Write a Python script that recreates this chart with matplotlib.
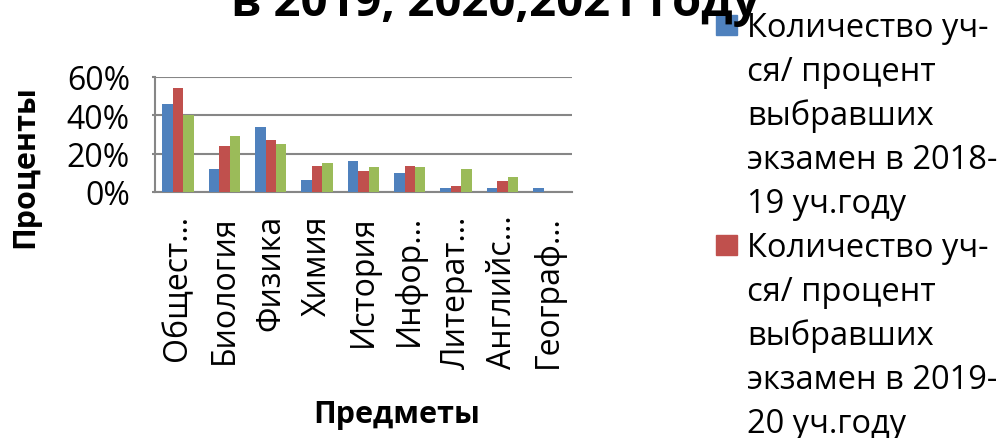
import numpy as np
import matplotlib
matplotlib.use("Agg")
from matplotlib import pyplot as plt
from matplotlib.patches import Rectangle

plt.rcParams['font.family'] = ['Open Sans', 'DejaVu Sans']

# Data (percent of students choosing the exam)
subjects = ["Общест…", "Биология", "Физика", "Химия", "История",
            "Инфор…", "Литерат…", "Английс…", "Географ…"]
year_2019 = [46, 12, 34, 6, 16, 10, 2, 2, 2]
year_2020 = [54, 24, 27, 13.5, 11, 13.5, 3, 5.5, 0]
year_2021 = [40, 29, 25, 15, 13, 13, 12, 8, 0]
series_labels = [
    "Количество уч-\nся/ процент\nвыбравших\nэкзамен в 2018-\n19 уч.году",
    "Количество уч-\nся/ процент\nвыбравших\nэкзамен в 2019-\n20 уч.году",
    "Количество уч-\nся/ процент\nвыбравших\nэкзамен в 2020-\n21 уч.году",
]
y_ticks = [0, 20, 40, 60]

colors = ["#4F81BD", "#C0504D", "#9BBB59"]
grey = "#868686"

fig = plt.figure(figsize=(10.01, 4.39), dpi=100)
ax = fig.add_axes([0.1548, 0.5604, 0.4166, 0.2620])

x = np.arange(len(subjects))
w = 0.225
for i, vals in enumerate([year_2019, year_2020, year_2021]):
    ax.bar(x + (i - 1) * w, np.array(vals) / 100, width=w, color=colors[i], zorder=3)

ax.set_xlim(-0.5, len(subjects) - 0.5)
ax.set_ylim(0, 0.6)
ax.set_yticks([t / 100 for t in y_ticks])
ax.set_yticklabels([f"{t}%" for t in y_ticks], fontsize=23)
ax.set_xticks(x)
ax.set_xticklabels(subjects, rotation=90, fontsize=23)
ax.tick_params(axis="x", length=0, pad=16)
ax.tick_params(axis="y", length=2, color=grey, width=1.5, pad=16)
ax.grid(axis="y", color=grey, linewidth=1.5, zorder=0)
for s in ["top", "right"]:
    ax.spines[s].set_visible(False)
for s in ["left", "bottom"]:
    ax.spines[s].set_color(grey)
    ax.spines[s].set_linewidth(1.5)

ax.set_ylabel("Проценты", fontsize=22, fontweight="bold")
ax.yaxis.set_label_coords(-0.275, 0.226)
fig.text(397 / 1001, 1 - 423 / 439, "Предметы", fontsize=22, fontweight="bold",
         ha="center", va="baseline")

# title, only the last line fits on the canvas
fig.text(495 / 1001, 1 - 16 / 439, "в 2019, 2020,2021 году", fontsize=34,
         fontweight="bold", ha="center", va="baseline")

# legend drawn by hand so the square sits on the first line of each entry
line_h = 44
first_base = 37
for i, lab in enumerate(series_labels):
    b0 = first_base + i * 5 * line_h
    fig.patches.append(Rectangle((716 / 1001, 1 - (b0 - 1) / 439), 21 / 1001, 20 / 439,
                                 transform=fig.transFigure, color=colors[i]))
    for j, part in enumerate(lab.split("\n")):
        fig.text(747 / 1001, 1 - (b0 + j * line_h) / 439, part, fontsize=23.5,
                 ha="left", va="baseline")

fig.savefig("out.png", dpi=100)
